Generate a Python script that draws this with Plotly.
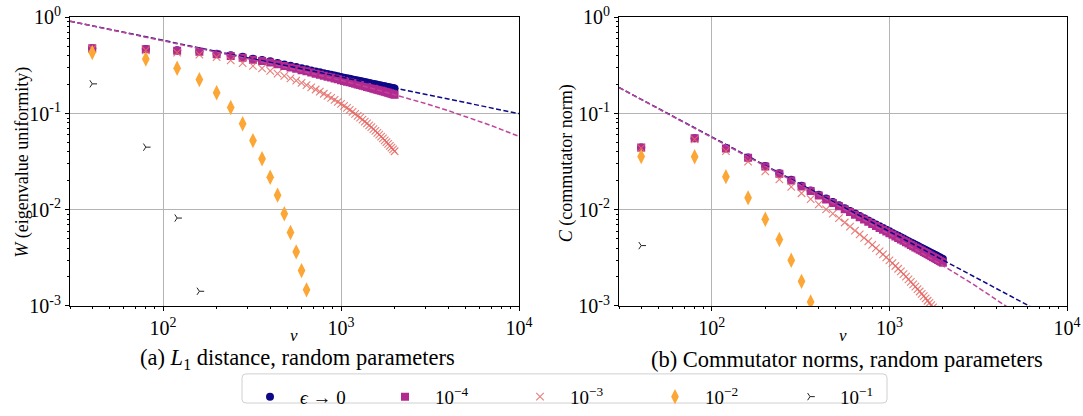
import math
import plotly.graph_objects as go

# ---------------- data ----------------
nu = [40, 80, 120, 160, 200, 240, 280, 320, 360, 400,
      440, 480, 520, 560, 600, 640, 680, 720, 760, 800,
      840, 880, 920, 960, 1000, 1040, 1080, 1120, 1160, 1200,
      1240, 1280, 1320, 1360, 1400, 1440, 1480, 1520, 1560, 1600,
      1640, 1680, 1720, 1760, 1800, 1840, 1880, 1920, 1960, 2000]

series_labels = ["<i>ϵ</i> → 0", "10<sup>−4</sup>", "10<sup>−3</sup>", "10<sup>−2</sup>", "10<sup>−1</sup>"]

# (a) W, eigenvalue uniformity
W_eps0 = [0.48, 0.47, 0.455, 0.445, 0.42, 0.405, 0.39, 0.373, 0.362, 0.35,
          0.3366, 0.3248, 0.3143, 0.3049, 0.2964, 0.2887, 0.2816, 0.2750, 0.2690, 0.2634,
          0.2582, 0.2533, 0.2487, 0.2444, 0.2404, 0.2367, 0.2332, 0.2299, 0.2267, 0.2237,
          0.2208, 0.2181, 0.2154, 0.2129, 0.2105, 0.2082, 0.2059, 0.2038, 0.2017, 0.1997,
          0.1977, 0.1959, 0.1941, 0.1923, 0.1906, 0.1890, 0.1873, 0.1858, 0.1843, 0.1828]
W_1e4 = [0.479, 0.467, 0.451, 0.440, 0.414, 0.398, 0.382, 0.364, 0.352, 0.340,
         0.3257, 0.3133, 0.3023, 0.2924, 0.2834, 0.2752, 0.2676, 0.2605, 0.2541, 0.2481,
         0.2424, 0.2371, 0.2321, 0.2274, 0.2230, 0.2189, 0.2151, 0.2114, 0.2078, 0.2044,
         0.2012, 0.1981, 0.1951, 0.1922, 0.1895, 0.1869, 0.1843, 0.1818, 0.1794, 0.1771,
         0.1748, 0.1727, 0.1706, 0.1685, 0.1665, 0.1646, 0.1627, 0.1609, 0.1591, 0.1573]
W_1e3 = [0.47, 0.455, 0.43, 0.41, 0.386, 0.358, 0.335, 0.313, 0.296, 0.279,
         0.2613, 0.2465, 0.2329, 0.2203, 0.2087, 0.1978, 0.1877, 0.1782, 0.1693, 0.1610,
         0.1532, 0.1458, 0.1388, 0.1322, 0.1260, 0.1201, 0.1145, 0.1093, 0.1043, 0.0995,
         0.0950, 0.0907, 0.0866, 0.0827, 0.0791, 0.0756, 0.0722, 0.0690, 0.0660, 0.0631,
         0.0604, 0.0577, 0.0552, 0.0528, 0.0505, 0.0484, 0.0463, 0.0443, 0.0424, 0.0406]
W_1e2 = [0.433, 0.37, 0.296, 0.226, 0.165, 0.116, 0.0785, 0.0524, 0.0339, 0.0218,
         0.0142, 0.0091, 0.0058, 0.00365, 0.00233, 0.00147]
W_1e1 = [0.204, 0.0448, 0.0082, 0.00142]

W_fit_nu0 = [30, 10000]
W_fit0 = [0.915, 0.100]
W_fit_nu4 = [30, 100, 300, 500, 1000, 1500, 2000, 3000, 4000, 5500, 7000, 10000]
W_fit4 = [0.915, 0.575, 0.372, 0.300, 0.222, 0.1825, 0.158, 0.127, 0.1075, 0.0885, 0.075, 0.058]

# (b) C, commutator norm
C_eps0 = [0.0445, 0.0556, 0.0436, 0.0350, 0.0285, 0.0240, 0.0205, 0.0178, 0.0159, 0.0143,
          0.01306, 0.01202, 0.01113, 0.01037, 0.009713, 0.009132, 0.00862, 0.008162, 0.007752, 0.007382,
          0.007046, 0.00674, 0.006461, 0.006203, 0.005966, 0.005747, 0.005544, 0.005355, 0.005179, 0.005014,
          0.004859, 0.004713, 0.004577, 0.004449, 0.004327, 0.004213, 0.004104, 0.004001, 0.003904, 0.003811,
          0.003722, 0.003638, 0.003556, 0.003479, 0.003405, 0.003335, 0.003266, 0.003202, 0.00314, 0.00308]
C_1e4 = [0.0444, 0.0554, 0.0434, 0.0347, 0.0282, 0.0237, 0.0202, 0.0175, 0.01564, 0.01405,
         0.0128, 0.01176, 0.01087, 0.01011, 0.009455, 0.008873, 0.008361, 0.007902, 0.007492, 0.007121,
         0.006785, 0.006478, 0.006199, 0.005941, 0.005703, 0.005484, 0.005281, 0.005092, 0.004915, 0.00475,
         0.004595, 0.004449, 0.004313, 0.004185, 0.004063, 0.003949, 0.00384, 0.003737, 0.00364, 0.003547,
         0.003458, 0.003374, 0.003292, 0.003215, 0.003141, 0.003071, 0.003002, 0.002938, 0.002876, 0.002816]
C_1e3 = [0.0437, 0.0540, 0.0407, 0.0317, 0.0251, 0.0207, 0.0173, 0.01485, 0.0129, 0.0114,
         0.0101, 0.009122, 0.008175, 0.00737, 0.006678, 0.006078, 0.005553, 0.005092, 0.004684, 0.004319,
         0.003994, 0.003701, 0.003437, 0.003198, 0.00298, 0.002782, 0.002601, 0.002435, 0.002282, 0.002142,
         0.002012, 0.001892, 0.001782, 0.001679, 0.001583, 0.001494, 0.001412, 0.001334, 0.001262, 0.001195,
         0.001132, 0.001073, 0.001017, 0.000965, 0.000916, 0.00087, 0.000827, 0.000786, 0.000748, 0.000711]
C_1e2 = [0.0358, 0.0356, 0.0221, 0.0133, 0.00798, 0.0049, 0.00298, 0.0018, 0.0011]
C_1e1 = [0.00424]

C_fit_nu0 = [30, 10000]
C_fit0 = [0.187, 0.000616]
C_fit_nu4 = [30, 100, 300, 1000, 2000, 3000, 4000, 5000]
C_fit4 = [0.1866, 0.0568, 0.0190, 0.00556, 0.00263, 0.001656, 0.00117, 0.00088]

x_ticks = [100, 1000, 10000]
x_ticktext = ["10<sup>2</sup>", "10<sup>3</sup>", "10<sup>4</sup>"]
y_ticks = [0.001, 0.01, 0.1, 1]
y_ticktext = ["10<sup>-3</sup>", "10<sup>-2</sup>", "10<sup>-1</sup>", "10<sup>0</sup>"]

# ---------------- styling ----------------
NAVY = "#0d0887"
MAG = "#b12a90"
SALMON = "rgba(228,104,100,0.85)"
ORANGE = "#fca636"
DARK = "#222222"
FIT_NAVY = "#0d0887"
FIT_MAG = "#c0449a"
FONT = "Liberation Serif"

W, H = 1083, 416
fig = go.Figure()


def add_panel(xa, ya, ys, fits, show):
    e0, e4, e3, e2, e1 = ys
    fig.add_trace(go.Scatter(x=nu[:len(e0)], y=e0, mode="markers", name=series_labels[0],
                             marker=dict(symbol="circle", size=8, color=NAVY, line=dict(width=0)),
                             xaxis=xa, yaxis=ya, showlegend=show, legendrank=1))
    fig.add_trace(go.Scatter(x=nu[:len(e4)], y=e4, mode="markers", name=series_labels[1],
                             marker=dict(symbol="square", size=8, color=MAG, line=dict(width=0)),
                             xaxis=xa, yaxis=ya, showlegend=show, legendrank=2))
    fig.add_trace(go.Scatter(x=nu[:len(e3)], y=e3, mode="markers", name=series_labels[2],
                             marker=dict(symbol="x-thin", size=7.5, color=SALMON,
                                         line=dict(width=1.1, color=SALMON)),
                             xaxis=xa, yaxis=ya, showlegend=show, legendrank=3))
    fig.add_trace(go.Scatter(x=nu[:len(e2)], y=e2, mode="markers", name=series_labels[3],
                             marker=dict(symbol="diamond-tall", size=11, color=ORANGE, line=dict(width=0)),
                             xaxis=xa, yaxis=ya, showlegend=show, legendrank=4))
    fig.add_trace(go.Scatter(x=nu[:len(e1)], y=e1, mode="markers", name=series_labels[4],
                             marker=dict(symbol="y-right", size=6, color=DARK,
                                         line=dict(width=1, color=DARK)),
                             xaxis=xa, yaxis=ya, showlegend=show, legendrank=5))
    (fx0, fy0), (fx4, fy4) = fits
    fig.add_trace(go.Scatter(x=fx0, y=fy0, mode="lines", line=dict(color=FIT_NAVY, width=1.5, dash="5px,2.5px"),
                             xaxis=xa, yaxis=ya, showlegend=False, hoverinfo="skip"))
    fig.add_trace(go.Scatter(x=fx4, y=fy4, mode="lines", line=dict(color=FIT_MAG, width=1.5, dash="5px,2.5px"),
                             xaxis=xa, yaxis=ya, showlegend=False, hoverinfo="skip"))


add_panel("x", "y", [W_eps0, W_1e4, W_1e3, W_1e2, W_1e1],
          [(W_fit_nu0, W_fit0), (W_fit_nu4, W_fit4)], True)
add_panel("x2", "y2", [C_eps0, C_1e4, C_1e3, C_1e2, C_1e1],
          [(C_fit_nu0, C_fit0), (C_fit_nu4, C_fit4)], False)

minor_x = [v * m for v in (10, 100, 1000) for m in range(2, 10) if 30 <= v * m <= 10000]
minor_y = [v * m for v in (0.001, 0.01, 0.1) for m in range(2, 10)]

common = dict(showline=True, linecolor="black", linewidth=1, mirror=True,
              ticks="outside", ticklen=4, tickwidth=1, tickcolor="black",
              showgrid=True, gridcolor="#b4b4b4", gridwidth=1, zeroline=False,
              tickfont=dict(family=FONT, size=20, color="black"), automargin=False)

xcommon = dict(common, type="log", range=[math.log10(30), 4], tickmode="array",
               tickvals=x_ticks, ticktext=x_ticktext,
               minor=dict(tickmode="array", tickvals=minor_x, ticks="outside", ticklen=2,
                          tickwidth=0.8, tickcolor="black", showgrid=False))
ycommon = dict(common, type="log", range=[-3, 0], tickmode="array",
               tickvals=y_ticks, ticktext=y_ticktext,
               minor=dict(tickmode="array", tickvals=minor_y, ticks="outside", ticklen=2,
                          tickwidth=0.8, tickcolor="black", showgrid=False))

ydom = [1 - 315 / H, 1 - 18 / H]
fig.update_layout(
    width=W, height=H,
    margin=dict(l=0, r=0, t=0, b=0),
    paper_bgcolor="white", plot_bgcolor="white",
    font=dict(family=FONT, size=18, color="black"),
    xaxis=dict(xcommon, domain=[70 / W, 519 / W], anchor="y"),
    yaxis=dict(ycommon, domain=ydom, anchor="x"),
    xaxis2=dict(xcommon, domain=[619 / W, 1067 / W], anchor="y2"),
    yaxis2=dict(ycommon, domain=ydom, anchor="x2"),
    legend=dict(orientation="h", x=240 / W, xanchor="left", y=1 - 389 / H, yanchor="top",
                borderwidth=0, bgcolor="rgba(0,0,0,0)",
                font=dict(family=FONT, size=19, color="black"),
                itemwidth=50, entrywidth=70, entrywidthmode="pixels", traceorder="normal",
                itemsizing="trace"),
    showlegend=True,
)

# legend frame (rounded, light grey)
x0, x1, y0, y1, r = 242 / W, 887 / W, 1 - 415 / H, 1 - 385 / H, 4
rx, ry = r / W, r / H
path = (f"M {x0+rx},{y0} L {x1-rx},{y0} Q {x1},{y0} {x1},{y0+ry} L {x1},{y1-ry} "
        f"Q {x1},{y1} {x1-rx},{y1} L {x0+rx},{y1} Q {x0},{y1} {x0},{y1-ry} "
        f"L {x0},{y0+ry} Q {x0},{y0} {x0+rx},{y0} Z")
fig.add_shape(type="path", path=path, xref="paper", yref="paper",
              line=dict(color="#d0d0d0", width=1), fillcolor="rgba(255,255,255,0.8)", layer="below")

ann = [
    dict(x=23 / W, y=1 - 167.5 / H, text="<i>W</i> (eigenvalue uniformity)", textangle=-90,
         font=dict(family=FONT, size=18, color="black")),
    dict(x=566 / W, y=1 - 168 / H, text="<i>C</i> (commutator norm)", textangle=-90,
         font=dict(family=FONT, size=18, color="black")),
    dict(x=294 / W, y=1 - 345 / H, text="<i>ν</i>", font=dict(family=FONT, size=17, color="black")),
    dict(x=843 / W, y=1 - 345 / H, text="<i>ν</i>", font=dict(family=FONT, size=17, color="black")),
    dict(x=297 / W, y=1 - 370 / H, text="(a) <i>L</i><sub>1</sub> distance, random parameters",
         font=dict(family=FONT, size=22.5, color="black")),
    dict(x=847 / W, y=1 - 370 / H, text="(b) Commutator norms, random parameters",
         font=dict(family=FONT, size=22.5, color="black")),
]
for a in ann:
    fig.add_annotation(xref="paper", yref="paper", showarrow=False,
                       xanchor="center", yanchor="middle", **a)

fig.write_html("out.html", config={"displayModeBar": False},
               post_script="document.body.style.margin='0px';")
